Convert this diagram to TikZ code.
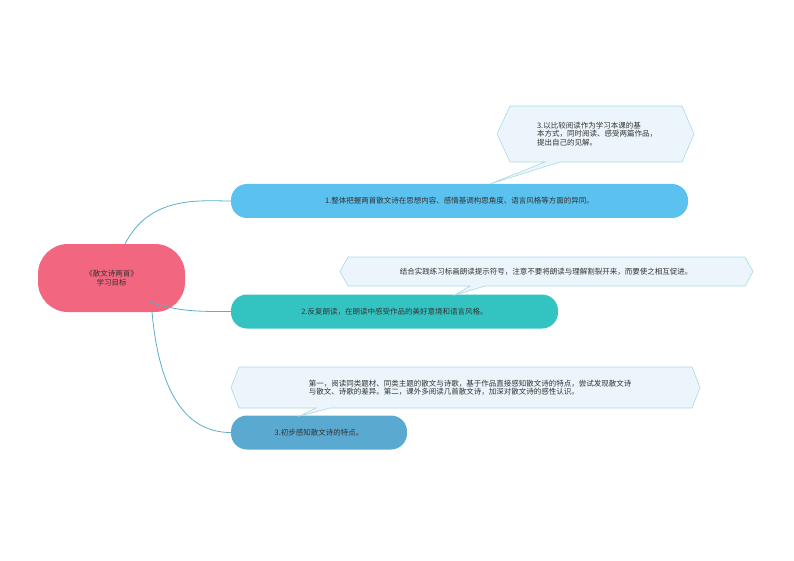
\documentclass[tikz,border=0pt]{standalone}
\usepackage{fontspec}
\newfontfamily\cjk{Noto Sans CJK SC}
\begin{document}
\begin{tikzpicture}[x=1pt,y=-1pt,
  topic/.style={rounded corners=16pt,minimum height=34pt,inner sep=0pt,text=black!80,font=\cjk\fontsize{7.5}{9}\selectfont},
  callout/.style={fill=calfill,draw=calline,line width=0.6pt},
  ctext/.style={font=\cjk\fontsize{7.5}{8.5}\selectfont,text=black!80,align=left,inner sep=0pt},
  link/.style={draw=linkc,line width=0.8pt}]
\definecolor{pinkc}{HTML}{F2667F}
\definecolor{c1}{HTML}{5BC1EF}
\definecolor{c2}{HTML}{33C4C2}
\definecolor{c3}{HTML}{59A9D1}
\definecolor{calfill}{HTML}{EBF5FB}
\definecolor{calline}{HTML}{A9D9E6}
\definecolor{linkc}{HTML}{5BAFC8}
\useasboundingbox (0,0) rectangle (794,561);
% root
\node[topic,fill=pinkc,minimum width=147pt,minimum height=68pt,rounded corners=30pt,align=center] (root) at (111.5,278) {《散文诗两首》\\学习目标};
\node[topic,fill=c1,minimum width=457pt] (n1) at (459.5,201) {1.整体把握两首散文诗在思想内容、感情基调构思角度、语言风格等方面的异同。};
\node[topic,fill=c2,minimum width=327pt] (n2) at (394.5,311.5) {2.反复朗读，在朗读中感受作品的美好意境和语言风格。};
\node[topic,fill=c3,minimum width=176pt] (n3) at (319,432.5) {3.初步感知散文诗的特点。};
\coordinate (a1) at (125,244);
\coordinate (a2) at (150,302);
\coordinate (a3) at (152,312);
\draw[link] (a1) .. controls (150,195) and (200,201) .. (n1.west);
\draw[link] (a2) .. controls (180,312) and (200,311.5) .. (n2.west);
\draw[link] (a3) .. controls (160,400) and (190,432.5) .. (n3.west);
% callouts
\draw[callout] (510,106) -- (682,106) -- (694,134) -- (682,162) -- (560,162) -- (490,184) -- (545,162) -- (510,162) -- (497,134) -- cycle;
\node[ctext] (t1) at (597,134) {3.以比较阅读作为学习本课的基\\本方式，同时阅读、感受两篇作品，\\提出自己的见解。};
\draw[callout] (348,257) -- (745,257) -- (753,271.5) -- (745,286) -- (485,286) -- (455,295) -- (470,286) -- (348,286) -- (340,271.5) -- cycle;
\node[ctext] (t2) at (546,271.5) {结合实践练习标画朗读提示符号，注意不要将朗读与理解割裂开来，而要使之相互促进。};
\draw[callout] (239,367) -- (692,367) -- (700,387.5) -- (692,408) -- (330,408) -- (300,416) -- (316,408) -- (239,408) -- (231,387.5) -- cycle;
\node[ctext] (t3) at (470,387.5) {第一，阅读同类题材、同类主题的散文与诗歌，基于作品直接感知散文诗的特点，尝试发现散文诗\\与散文、诗歌的差异。第二，课外多阅读几首散文诗，加深对散文诗的感性认识。};
\end{tikzpicture}
\end{document}
